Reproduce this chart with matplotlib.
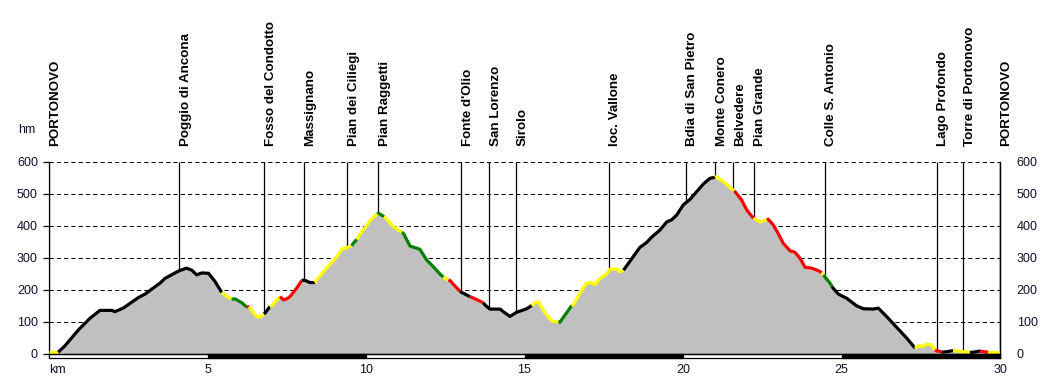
import numpy as np
import matplotlib
matplotlib.use("Agg")
import matplotlib.pyplot as plt
from matplotlib.patches import Rectangle

# ---------------- data ----------------
km = [0.00, 0.29, 0.50, 0.93, 1.29, 1.61, 1.98, 2.08, 2.34, 2.82, 3.03, 3.50, 3.66, 4.03, 4.11,
      4.34, 4.50, 4.66, 4.82, 5.03, 5.24, 5.45, 5.60, 5.76, 5.87, 6.08, 6.24, 6.32, 6.39, 6.50,
      6.60, 6.71, 6.78, 6.81, 6.97, 7.03, 7.15, 7.29, 7.39, 7.50, 7.60, 7.81, 7.97, 8.05, 8.23,
      8.39, 8.44, 8.76, 9.08, 9.23, 9.39, 9.55, 9.60, 9.71, 9.76, 10.07, 10.20, 10.36, 10.39, 10.57,
      10.60, 10.86, 11.13, 11.18, 11.39, 11.55, 11.70, 11.91, 12.12, 12.33, 12.44, 12.60, 12.65, 12.97, 13.02,
      13.28, 13.33, 13.70, 13.75, 13.91, 14.23, 14.33, 14.54, 14.75, 15.07, 15.23, 15.33, 15.44, 15.65, 15.86,
      16.07, 16.12, 16.28, 16.49, 16.54, 16.75, 16.96, 17.12, 17.22, 17.38, 17.59, 17.70, 17.91, 18.01, 18.12,
      18.17, 18.43, 18.64, 18.85, 19.01, 19.27, 19.49, 19.64, 19.80, 20.01, 20.22, 20.43, 20.64, 20.85, 21.01,
      21.04, 21.27, 21.54, 21.62, 21.85, 22.01, 22.22, 22.43, 22.64, 22.69, 22.85, 23.01, 23.16, 23.38, 23.53,
      23.69, 23.85, 24.06, 24.27, 24.38, 24.43, 24.64, 24.70, 24.74, 24.90, 25.16, 25.48, 25.69, 26.00, 26.16,
      26.42, 26.74, 27.06, 27.32, 27.42, 27.58, 27.69, 27.84, 27.95, 28.00, 28.16, 28.21, 28.52, 28.63, 29.05,
      29.16, 29.37, 29.47, 29.63, 29.68, 30.00]
elev = [5, 5, 25, 75, 111, 136, 136, 132, 143, 176, 187, 221, 236, 256, 260,
        268, 262, 247, 253, 252, 226, 192, 180, 171, 172, 160, 146, 148, 137, 122,
        115, 117, 125, 127, 148, 150, 165, 179, 169, 172, 179, 205, 229, 231, 223,
        223, 231, 268, 304, 327, 332, 338, 346, 358, 367, 408, 425, 437, 440, 429,
        427, 398, 380, 377, 337, 332, 327, 294, 273, 250, 240, 231, 229, 195, 192,
        179, 177, 160, 153, 140, 140, 132, 117, 130, 141, 151, 160, 163, 127, 103,
        99, 99, 122, 151, 153, 190, 221, 223, 216, 236, 250, 265, 265, 256, 262,
        268, 304, 333, 348, 365, 387, 413, 419, 434, 466, 483, 507, 531, 549, 552,
        554, 539, 515, 510, 481, 450, 424, 413, 419, 421, 403, 375, 346, 322, 318,
        299, 271, 268, 260, 254, 246, 221, 210, 205, 187, 174, 150, 141, 140, 143,
        117, 83, 49, 18, 25, 23, 31, 28, 12, 9, 7, 5, 10, 9, 5,
        5, 9, 7, 5, 4, 4]

# colour of each stretch: starts (km) and colour codes
seg_start = [0.00, 0.29, 5.45, 5.76, 6.24, 6.32, 6.78, 6.97, 7.29, 7.97, 8.39, 9.55, 9.71, 10.36,
             10.57, 11.13, 12.44, 12.60, 12.97, 13.28, 13.70, 15.23, 16.07, 16.49, 18.12, 21.01,
             21.62, 22.22, 22.64, 24.38, 24.43, 24.70, 27.32, 27.95, 28.16, 28.52, 29.05, 29.37, 29.63]
seg_color = ['y', 'k', 'y', 'g', 'r', 'y', 'k', 'y', 'r', 'k', 'y', 'g', 'y', 'g',
             'y', 'g', 'y', 'r', 'k', 'r', 'k', 'y', 'g', 'y', 'k', 'y',
             'r', 'y', 'r', 'y', 'g', 'k', 'y', 'r', 'k', 'y', 'k', 'r', 'y']

places = ['PORTONOVO', 'Poggio di Ancona', 'Fosso del Condotto', 'Massignano', 'Pian dei Ciliegi',
          'Pian Raggetti', "Fonte d'Olio", 'San Lorenzo', 'Sirolo', 'loc. Vallone',
          'Bdia di San Pietro', 'Monte Conero', 'Belvedere', 'Pian Grande', 'Colle S. Antonio',
          'Lago Profondo', 'Torre di Portonovo', 'PORTONOVO']
place_km = [0.0, 4.11, 6.79, 8.05, 9.41, 10.39, 13.01, 13.89, 14.73, 17.66,
            20.09, 21.02, 21.59, 22.24, 24.47, 28.0, 28.84, 30.0]
place_elev = [5, 258, 127, 231, 335, 440, 195, 143, 132, 262,
              473, 554, 510, 424, 247, 9, 9, 4]

y_ticks = [0, 100, 200, 300, 400, 500, 600]
x_ticks = [0, 5, 10, 15, 20, 25, 30]
x_ticklabels = ['km', '5', '10', '15', '20', '25', '30']

# ---------------- drawing ----------------
plt.rcParams['font.family'] = ['Liberation Sans', 'DejaVu Sans']
W, H = 1050, 380
fig = plt.figure(figsize=(W / 100, H / 100), dpi=100)
ax = fig.add_axes([49 / W, 22 / H, 951 / W, 196 / H])
ax.set_xlim(0, 30)
ax.set_ylim(-13, 600)

cmap = {'y': '#FFFF00', 'k': '#000000', 'g': '#008000', 'r': '#FF0000'}
km_a = np.array(km)
el_a = np.array(elev)

# grid
for yv in y_ticks[1:]:
    ax.axhline(yv, color='black', lw=0.75, ls=(0, (4, 3)), zorder=1)

# fill
ax.fill_between(km_a, el_a, 0, color='#C0C0C0', lw=0, zorder=2)

# profile line coloured by stretch
ends = seg_start[1:] + [km[-1]]
for s, e, c in zip(seg_start, ends, seg_color):
    m = (km_a >= s - 1e-9) & (km_a <= e + 1e-9)
    ax.plot(km_a[m], el_a[m], color=cmap[c], lw=2.3, solid_joinstyle='round',
            solid_capstyle='butt', zorder=4)

# waypoint lines and labels
ax.vlines(place_km, place_elev, 600, color='black', lw=0.9, zorder=3)
for name, x in zip(places, place_km):
    ax.annotate(name, xy=(x, 600), xytext=(0.3, 11.5), textcoords='offset points',
                rotation=90, ha='left', va='bottom', fontsize=9.6, fontweight='bold',
                color='black', annotation_clip=False)

# bottom scale bar
ax.add_patch(Rectangle((0, -13), 30, 13, facecolor='white', edgecolor='black', lw=0.9,
                       zorder=5, clip_on=False))
for s in x_ticks[1:-1:2]:
    ax.add_patch(Rectangle((s, -13), 5, 13, facecolor='black', edgecolor='black', lw=0.9,
                           zorder=6, clip_on=False))
ax.axhline(0, color='black', lw=0.9, zorder=6)

# axes styling
tick_color = '#111133'
ax.spines['top'].set_visible(False)
ax.spines['bottom'].set_visible(False)
for sp in ('left', 'right'):
    ax.spines[sp].set_linewidth(0.9)
ax.set_yticks(y_ticks)
ax.tick_params(axis='y', direction='out', length=4, width=0.9, pad=4, labelsize=9,
               labelcolor=tick_color)
ax.set_xticks(x_ticks)
ax.set_xticklabels(x_ticklabels)
ax.tick_params(axis='x', length=0, pad=4, labelsize=9, labelcolor=tick_color)
ax.get_xticklabels()[0].set_horizontalalignment('left')

ax2 = ax.twinx()
ax2.set_ylim(ax.get_ylim())
ax2.set_yticks(y_ticks)
ax2.tick_params(axis='y', length=0, pad=12, labelsize=9, labelcolor=tick_color)
for sp in ('top', 'bottom', 'left'):
    ax2.spines[sp].set_visible(False)
ax2.spines['right'].set_linewidth(0.9)

fig.text(27 / W, 1 - 130 / H, 'hm', ha='center', va='center', fontsize=9, color=tick_color)

fig.savefig('out.png', dpi=100)
